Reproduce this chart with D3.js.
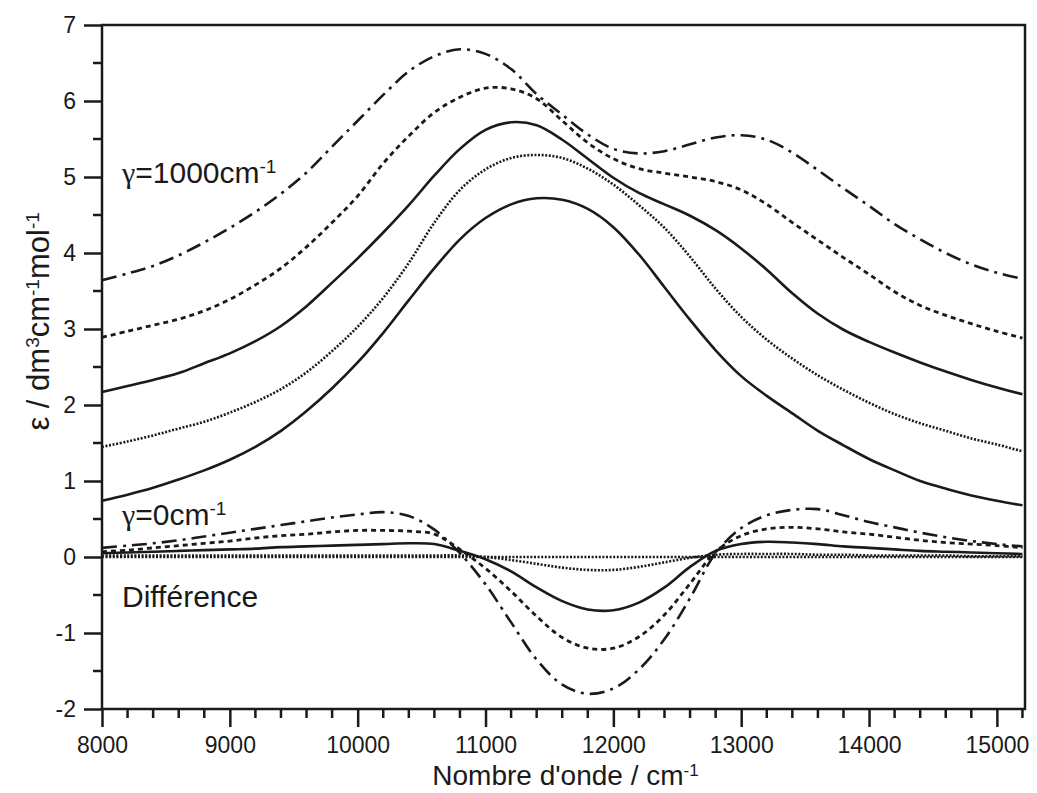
<!DOCTYPE html>
<html>
<head>
<meta charset="utf-8">
<script src="https://cdn.jsdelivr.net/npm/d3@7"></script>
<style>
  body { margin: 0; background: #fff; }
  text { font-family: "Liberation Sans", Arial, Helvetica, sans-serif; fill: #1a1a1a; }
</style>
</head>
<body>
<div id="chart"></div>
<script>
// wavenumbers (cm-1), one sample every 200
var wavenumbers = d3.range(8000, 15201, 200);

// absorption spectra, gamma = 1000 ... 0 cm-1 (top to bottom)
var specDashDot = [3.64,3.73,3.83,3.97,4.14,4.33,4.54,4.78,5.06,5.40,5.74,6.08,6.39,6.59,6.68,6.62,6.42,6.09,5.82,5.56,5.37,5.31,5.34,5.43,5.52,5.55,5.49,5.32,5.09,4.85,4.62,4.38,4.18,4.00,3.85,3.74,3.66];
var specDashed  = [2.89,2.97,3.05,3.13,3.24,3.39,3.58,3.80,4.08,4.40,4.75,5.18,5.54,5.85,6.05,6.17,6.16,6.03,5.74,5.45,5.24,5.11,5.05,5.00,4.94,4.83,4.64,4.40,4.17,3.94,3.72,3.49,3.31,3.18,3.07,2.97,2.88];
var specSolidHi = [2.17,2.25,2.33,2.42,2.55,2.68,2.84,3.04,3.30,3.61,3.93,4.27,4.63,5.02,5.37,5.62,5.72,5.68,5.49,5.24,4.99,4.79,4.64,4.49,4.30,4.06,3.78,3.47,3.20,2.99,2.83,2.69,2.56,2.44,2.33,2.23,2.14];
var specDotted  = [1.45,1.52,1.60,1.69,1.78,1.90,2.04,2.21,2.43,2.71,3.03,3.41,3.87,4.40,4.83,5.10,5.25,5.29,5.25,5.11,4.90,4.63,4.33,3.95,3.53,3.16,2.86,2.61,2.39,2.20,2.03,1.88,1.76,1.66,1.56,1.48,1.39];
var specSolidLo = [0.74,0.82,0.91,1.02,1.14,1.28,1.45,1.66,1.92,2.22,2.56,2.95,3.38,3.80,4.18,4.46,4.64,4.72,4.70,4.58,4.34,3.98,3.55,3.12,2.72,2.38,2.12,1.89,1.66,1.47,1.29,1.14,1.00,0.90,0.81,0.74,0.68];

// differences
var diffDashDot = [0.12,0.15,0.18,0.22,0.27,0.32,0.37,0.42,0.47,0.52,0.56,0.59,0.54,0.36,0.05,-0.36,-0.86,-1.35,-1.68,-1.80,-1.73,-1.48,-1.08,-0.54,0.05,0.38,0.55,0.62,0.63,0.55,0.46,0.39,0.32,0.26,0.21,0.17,0.14];
var diffDashed  = [0.07,0.09,0.12,0.15,0.18,0.21,0.25,0.28,0.30,0.33,0.35,0.35,0.34,0.30,0.10,-0.15,-0.45,-0.78,-1.06,-1.20,-1.20,-1.05,-0.76,-0.35,0.07,0.28,0.37,0.39,0.37,0.33,0.30,0.26,0.22,0.19,0.17,0.15,0.12];
var diffSolid   = [0.05,0.06,0.07,0.08,0.09,0.10,0.11,0.13,0.14,0.15,0.16,0.17,0.18,0.17,0.08,-0.03,-0.19,-0.40,-0.58,-0.69,-0.70,-0.60,-0.40,-0.13,0.08,0.17,0.20,0.19,0.17,0.14,0.12,0.10,0.08,0.07,0.06,0.05,0.04];
var diffDotted  = [0.02,0.02,0.02,0.02,0.02,0.02,0.02,0.02,0.02,0.02,0.02,0.02,0.02,0.02,0.02,0.00,-0.04,-0.09,-0.14,-0.17,-0.17,-0.13,-0.07,-0.01,0.03,0.04,0.04,0.04,0.03,0.03,0.02,0.02,0.02,0.02,0.01,0.01,0.01];
var diffZero    = wavenumbers.map(function() { return 0; });

var xTicks = [8000, 9000, 10000, 11000, 12000, 13000, 14000, 15000];
var yTicks = [-2, -1, 0, 1, 2, 3, 4, 5, 6, 7];

var margin = {top: 25, right: 12, bottom: 84, left: 102},
    width = 1037 - margin.left - margin.right,
    height = 793 - margin.top - margin.bottom;

var svg = d3.select("#chart")
    .append("svg")
    .attr("width", 1037)
    .attr("height", 793)
    .append("g")
    .attr("transform", "translate(" + margin.left + "," + margin.top + ")");

var x = d3.scaleLinear()
    .domain([8000, 15220])
    .range([0, width]);

var y = d3.scaleLinear()
    .domain([-2, 7])
    .range([height, 0]);

var styles = {
    dashdot: {dash: "15,6,3,6", w: 2.6},
    dashed:  {dash: "5,4", w: 2.8},
    solid:   {dash: null, w: 2.6},
    dotted:  {dash: "2,1.6", w: 2.6}
};

var series = [
    {values: specDashDot, style: "dashdot"},
    {values: specDashed,  style: "dashed"},
    {values: specSolidHi, style: "solid"},
    {values: specDotted,  style: "dotted"},
    {values: specSolidLo, style: "solid"},
    {values: diffZero,    style: "dotted"},
    {values: diffDotted,  style: "dotted"},
    {values: diffSolid,   style: "solid"},
    {values: diffDashed,  style: "dashed"},
    {values: diffDashDot, style: "dashdot"}
];

var line = d3.line()
    .x(function(d, i) { return x(wavenumbers[i]); })
    .y(function(d) { return y(d); })
    .curve(d3.curveCatmullRom.alpha(0.5));

var plot = svg.append("g");
series.forEach(function(s) {
    plot.append("path")
        .datum(s.values)
        .attr("d", line)
        .attr("fill", "none")
        .attr("stroke", "#1a1a1a")
        .attr("stroke-width", styles[s.style].w)
        .attr("stroke-dasharray", styles[s.style].dash);
});

// frame
svg.append("rect")
    .attr("x", 0).attr("y", 0)
    .attr("width", width).attr("height", height)
    .attr("fill", "none")
    .attr("stroke", "#1a1a1a")
    .attr("stroke-width", 2.5);

var fmt = function(d) { return String(d); };  // plain hyphen for negatives

// bottom axis: majors every 1000, minors every 200
var minorX = d3.range(8000, 15201, 200).filter(function(d) { return d % 1000 !== 0; });
var xAxis = svg.append("g").attr("transform", "translate(0," + height + ")");
xAxis.call(d3.axisBottom(x).tickValues(xTicks).tickSize(18).tickPadding(10).tickFormat(fmt));
xAxis.append("g").selectAll("line")
    .data(minorX).enter().append("line")
    .attr("x1", function(d) { return x(d); })
    .attr("x2", function(d) { return x(d); })
    .attr("y1", 0).attr("y2", 9);

// left axis: majors every 1, minors at halves
var minorY = d3.range(-1.5, 7, 1);
var yAxis = svg.append("g");
yAxis.call(d3.axisLeft(y).tickValues(yTicks).tickSize(18).tickPadding(8).tickFormat(fmt));
yAxis.append("g").selectAll("line")
    .data(minorY).enter().append("line")
    .attr("y1", function(d) { return y(d); })
    .attr("y2", function(d) { return y(d); })
    .attr("x1", 0).attr("x2", -9);

svg.selectAll(".domain").remove();
svg.selectAll(".tick line, g > g > line")
    .attr("stroke", "#1a1a1a")
    .attr("stroke-width", 2.5);
svg.selectAll(".tick text")
    .style("font-size", "23px")
    .style("font-family", "'Liberation Sans', Arial, sans-serif")
    .attr("fill", "#1a1a1a");

// annotations
function labelWithSup(g, px, py, parts, size) {
    var t = g.append("text")
        .attr("x", px).attr("y", py)
        .style("font-size", size + "px");
    parts.forEach(function(p) {
        var ts = t.append("tspan").text(p[0]);
        if (p[1] === "sup") ts.attr("baseline-shift", "super").style("font-size", Math.round(size * 0.62) + "px");
        if (p[1] === "greek") ts.style("font-family", "'Liberation Serif', 'DejaVu Serif', serif");
    });
    return t;
}

labelWithSup(svg, 20, 158, [["γ", "greek"], ["=1000cm"], ["-1", "sup"]], 30);
labelWithSup(svg, 20, 500, [["γ", "greek"], ["=0cm"], ["-1", "sup"]], 30);
svg.append("text").attr("x", 20).attr("y", 582).style("font-size", "30px").text("Différence");

// axis titles
var xt = labelWithSup(svg, width / 2 + 2, height + 76, [["Nombre d'onde / cm"], ["-1", "sup"]], 28);
xt.attr("text-anchor", "middle");

var yt = svg.append("g")
    .attr("transform", "translate(-53," + y(3.1) + ") rotate(-90)");
var ytt = labelWithSup(yt, 0, 0, [["ε / dm"], ["3", "sup"], ["cm"], ["-1", "sup"], ["mol"], ["-1", "sup"]], 31);
ytt.attr("text-anchor", "middle");
</script>
</body>
</html>
